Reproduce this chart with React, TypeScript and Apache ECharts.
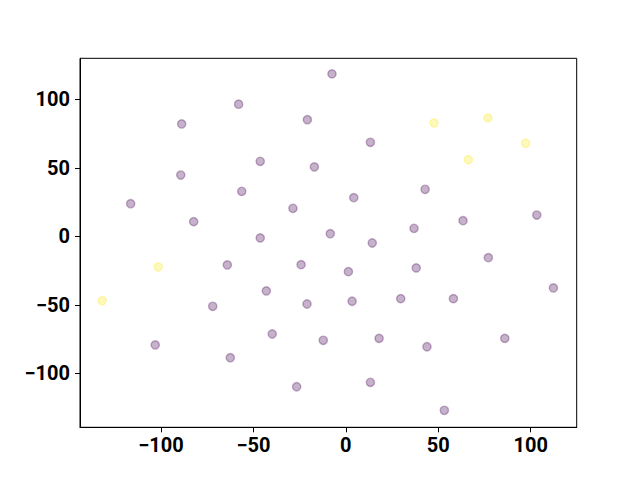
import React, { useEffect, useRef } from "react";
import * as echarts from "echarts";

const purpleX = [-116.4, -88.8, -89.3, -82.3, -58.0, -56.3, -46.3, -46.3, -28.6, -20.8, -17.0, -8.4, -7.5, 4.3,
  13.3, 42.9, 14.3, 36.9, 63.4, 103.3,
  -72.0, -103.1, -64.1, -43.0, -39.8, -62.5, -24.2, -21.0, -12.2, -26.6, 1.4, 3.4,
  77.1, 38.1, 112.3, 29.7, 58.2, 18.0, 43.9, 86.0, 13.3, 53.3];
const purpleY = [23.8, 82.0, 44.7, 10.7, 96.4, 32.8, 54.7, -1.2, 20.4, 85.1, 50.6, 1.9, 118.5, 28.2,
  68.6, 34.3, -4.9, 5.8, 11.4, 15.5,
  -51.1, -79.3, -20.9, -39.9, -71.3, -88.6, -20.7, -49.4, -75.9, -109.8, -25.8, -47.4,
  -15.6, -23.1, -37.7, -45.5, -45.5, -74.5, -80.6, -74.5, -106.6, -127.0];
const yellowX = [47.7, 76.9, 66.3, 97.3, -101.5, -131.8];
const yellowY = [82.7, 86.4, 55.9, 67.9, -22.4, -47.0];
const tickValues = [-100, -50, 0, 50, 100];

const fmt = (v: number) => (v < 0 ? "\u2212" + Math.abs(v) : String(v));

export default function App() {
  const ref = useRef<HTMLDivElement>(null);
  useEffect(() => {
    if (!ref.current) return;
    const chart = echarts.init(ref.current, undefined, { renderer: "svg" });
    const labelStyle = {
      color: "#000",
      fontFamily: "Roboto",
      fontWeight: "bold" as const,
      fontSize: 20,
    };
    const axisCommon = {
      type: "value" as const,
      splitLine: { show: false },
      axisLine: { show: true, onZero: false, lineStyle: { color: "#000", width: 1 } },
      axisTick: { show: true, inside: false, length: 5, lineStyle: { color: "#000", width: 1 }, customValues: tickValues },
    };
    chart.setOption({
      animation: false,
      backgroundColor: "#fff",
      grid: {
        left: 80,
        right: 63.3,
        top: 58.3,
        bottom: 52.7,
        show: true,
        borderColor: "#000",
        borderWidth: 1,
        backgroundColor: "transparent",
      },
      xAxis: {
        ...axisCommon,
        min: -143.8,
        max: 124.9,
        axisLabel: { ...labelStyle, margin: 8, formatter: fmt, customValues: tickValues },
      },
      yAxis: {
        ...axisCommon,
        min: -139.4,
        max: 129.9,
        axisLabel: { ...labelStyle, margin: 10, formatter: fmt, customValues: tickValues },
      },
      series: [
        {
          type: "scatter",
          symbolSize: 8.3,
          data: purpleX.map((x, i) => [x, purpleY[i]]),
          itemStyle: { color: "rgba(68,1,84,0.3)", borderColor: "rgba(68,1,84,0.3)", borderWidth: 1.4, opacity: 1 },
        },
        {
          type: "scatter",
          symbolSize: 8.3,
          data: yellowX.map((x, i) => [x, yellowY[i]]),
          itemStyle: { color: "rgba(253,231,37,0.3)", borderColor: "rgba(253,231,37,0.3)", borderWidth: 1.4, opacity: 1 },
        },
      ],
    });
    return () => chart.dispose();
  }, []);
  return <div ref={ref} style={{ width: 640, height: 480, position: "absolute", left: 0, top: 0 }} />;
}
